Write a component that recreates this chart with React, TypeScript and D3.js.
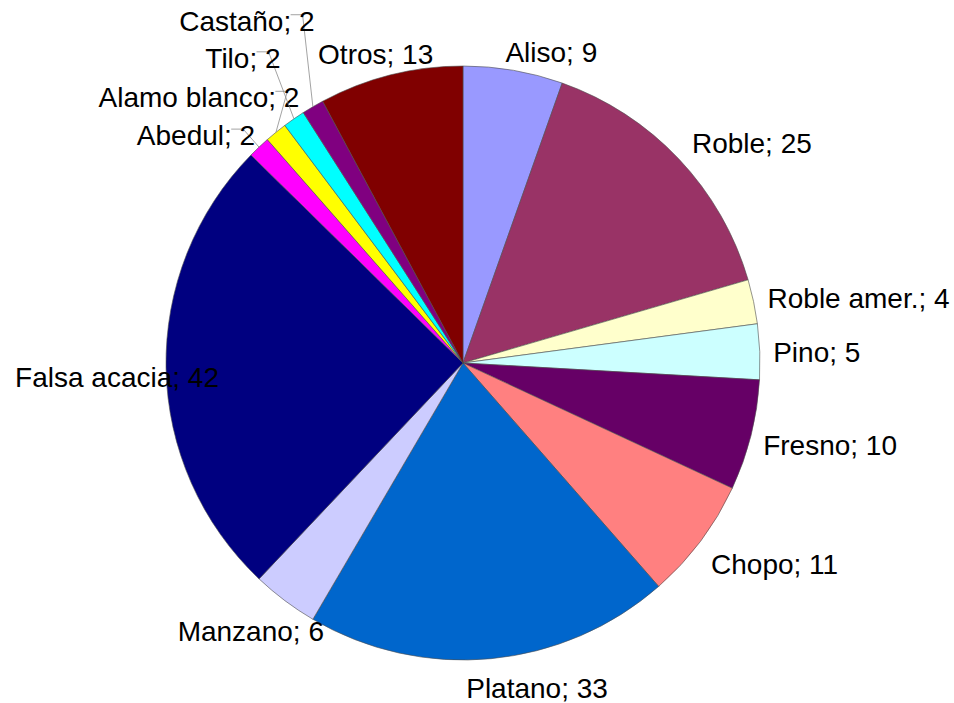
import React, { useMemo } from 'react';
import * as d3 from 'd3';

const categories = ['Aliso', 'Roble', 'Roble amer.', 'Pino', 'Fresno', 'Chopo', 'Platano', 'Manzano', 'Falsa acacia', 'Abedul', 'Alamo blanco', 'Tilo', 'Castaño', 'Otros'];
const values = [9, 25, 4, 5, 10, 11, 33, 6, 42, 2, 2, 2, 2, 13];
const colors = ['#9999FF', '#993366', '#FFFFCC', '#CCFFFF', '#660066', '#FF8080', '#0066CC', '#CCCCFF', '#000080', '#FF00FF', '#FFFF00', '#00FFFF', '#800080', '#800000'];
// manual label nudges (relative to the slice's outer mid point), like hand-placed labels
const labelShift: [number, number][] = [[38, -8], [73, -6], [105, 6], [57, 10], [79, 20], [74, 33], [46, 39], [-34, 40], [-49, 18], [-63, -2], [-77, -25], [-51, -51], [-66, -76], [-15, -11]];

const W = 954;
const H = 703;
const CX = 463;
const CY = 363;
const R = 297;
const FONT = '28px "Liberation Sans", Arial, sans-serif';

function measure(text: string): number {
  const c = document.createElement('canvas').getContext('2d');
  if (!c) return text.length * 14;
  c.font = FONT;
  return c.measureText(text).width;
}

export default function App() {
  const data = useMemo(() => categories.map((c, i) => ({ name: c, value: values[i], color: colors[i], shift: labelShift[i] })), []);
  const pie = d3.pie<any>().sort(null).value((d: any) => d.value).startAngle(0).endAngle(2 * Math.PI);
  const arcs = pie(data);
  const arcGen = d3.arc<any>().innerRadius(0).outerRadius(R);

  return (
    <svg width={W} height={H} style={{ position: 'absolute', left: 0, top: 0, background: '#fff' }}>
      <g transform={`translate(${CX},${CY})`}>
        {arcs.map((a, i) => (
          <path key={i} d={arcGen(a) as string} fill={a.data.color} stroke="#4d4d4d" strokeWidth={0.6} />
        ))}
      </g>
      {arcs.map((a, i) => {
        const mid = (a.startAngle + a.endAngle) / 2;
        const px = CX + R * Math.sin(mid);
        const py = CY - R * Math.cos(mid);
        const text = `${a.data.name}; ${a.data.value}`;
        const lx = px + a.data.shift[0];
        const ly = py + a.data.shift[1];
        const w = measure(text);
        const leader = a.data.value < 3;
        const ex = lx + w / 2 - 12;
        const ey = ly - 16;
        return (
          <g key={'l' + i}>
            {leader && (
              <polyline points={`${px},${py} ${ex},${ey} ${ex - 12},${ey}`} fill="none" stroke="#8c8c8c" strokeWidth={0.8} />
            )}
            <text x={lx} y={ly} textAnchor="middle" style={{ font: FONT }} fill="#000">{text}</text>
          </g>
        );
      })}
    </svg>
  );
}
